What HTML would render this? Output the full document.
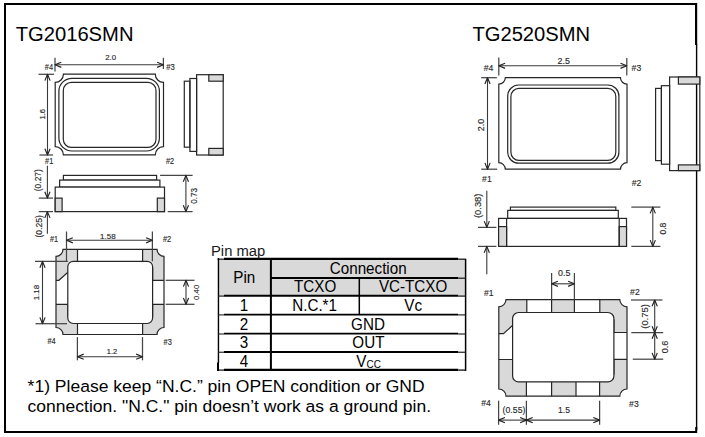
<!DOCTYPE html>
<html><head><meta charset="utf-8"><style>
html,body{margin:0;padding:0;background:#fff;}
body{width:705px;height:437px;overflow:hidden;position:relative;font-family:"Liberation Sans",sans-serif;}
svg{position:absolute;left:0;top:0;}
svg text{font-family:"Liberation Sans",sans-serif;}
</style></head><body>
<svg width="705" height="437" viewBox="0 0 705 437">
<path d="M4,3 H697 V5 H6 V431 H697 V433 H4 Z" fill="#000"/>
<rect x="695" y="3" width="2.2" height="42" fill="#000"/>
<rect x="695.9" y="44" width="1.4" height="386" fill="#000"/>
<rect x="695.2" y="427" width="2" height="6" fill="#000"/>
<text transform="translate(15.7,40.9) scale(1,1.045)" x="0" y="0" font-size="20.2" fill="#000">TG2016SMN</text>
<text transform="translate(472.4,41.2) scale(1,1.045)" x="0" y="0" font-size="20.2" fill="#000">TG2520SMN</text>
<path d="M63.40,74.20 H155.30 A8.2,8.2 0 0 0 163.50,82.40 V146.60 A8.2,8.2 0 0 0 155.30,154.80 H63.40 A8.2,8.2 0 0 0 55.20,146.60 V82.40 A8.2,8.2 0 0 0 63.40,74.20 Z" fill="none" stroke="#262626" stroke-width="1.2" />
<rect x="58.9" y="78.3" width="100.50" height="72.70" rx="13" fill="none" stroke="#262626" stroke-width="1.2"/>
<rect x="63.3" y="82.4" width="92.70" height="64.90" rx="8" fill="none" stroke="#262626" stroke-width="1.2"/>
<line x1="55.0" y1="57.8" x2="55.0" y2="71.5" stroke="#454545" stroke-width="1.25"/>
<line x1="163.4" y1="57.8" x2="163.4" y2="69.0" stroke="#454545" stroke-width="1.25"/>
<line x1="55.0" y1="64.8" x2="163.4" y2="64.8" stroke="#3a3a3a" stroke-width="1.1"/>
<polyline points="61.30,62.20 55.00,64.80 61.30,67.40" fill="none" stroke="#222" stroke-width="1.15" stroke-linejoin="round"/>
<polyline points="157.10,67.40 163.40,64.80 157.10,62.20" fill="none" stroke="#222" stroke-width="1.15" stroke-linejoin="round"/>
<text x="110.7" y="59.8" font-size="8.06" text-anchor="middle" fill="#2a2a2a" textLength="10.8" lengthAdjust="spacingAndGlyphs"  stroke="#2a2a2a" stroke-width="0.15">2.0</text>
<text x="48.9" y="69.9" font-size="8.51" text-anchor="middle" fill="#2a2a2a" textLength="8.2" lengthAdjust="spacingAndGlyphs"  stroke="#2a2a2a" stroke-width="0.15">#4</text>
<text x="170.5" y="69.5" font-size="8.51" text-anchor="middle" fill="#2a2a2a" textLength="8.5" lengthAdjust="spacingAndGlyphs"  stroke="#2a2a2a" stroke-width="0.15">#3</text>
<line x1="38.5" y1="74.3" x2="54.0" y2="74.3" stroke="#454545" stroke-width="1.25"/>
<line x1="39.4" y1="155.0" x2="53.0" y2="155.0" stroke="#454545" stroke-width="1.25"/>
<line x1="47.5" y1="74.3" x2="47.5" y2="155.0" stroke="#3a3a3a" stroke-width="1.1"/>
<polyline points="50.10,80.60 47.50,74.30 44.90,80.60" fill="none" stroke="#222" stroke-width="1.15" stroke-linejoin="round"/>
<polyline points="44.90,148.70 47.50,155.00 50.10,148.70" fill="none" stroke="#222" stroke-width="1.15" stroke-linejoin="round"/>
<text transform="translate(44.9,114.3) rotate(-90)" x="0" y="0" font-size="8.06" text-anchor="middle" fill="#2a2a2a" textLength="10.5" lengthAdjust="spacingAndGlyphs" stroke="#2a2a2a" stroke-width="0.15">1.6</text>
<text x="49.2" y="164.0" font-size="8.51" text-anchor="middle" fill="#2a2a2a" textLength="8.2" lengthAdjust="spacingAndGlyphs"  stroke="#2a2a2a" stroke-width="0.15">#1</text>
<text x="170.0" y="164.1" font-size="8.51" text-anchor="middle" fill="#2a2a2a" textLength="8.2" lengthAdjust="spacingAndGlyphs"  stroke="#2a2a2a" stroke-width="0.15">#2</text>
<rect x="196.6" y="74.7" width="26.60" height="80.30" fill="none" stroke="#262626" stroke-width="1.2"/>
<rect x="208.8" y="74.7" width="14.40" height="6.50" fill="#d9d9d9" stroke="#262626" stroke-width="1.2"/>
<rect x="208.8" y="148.4" width="14.40" height="6.60" fill="#d9d9d9" stroke="#262626" stroke-width="1.2"/>
<rect x="189.9" y="78.5" width="6.70" height="72.90" fill="none" stroke="#262626" stroke-width="1.2"/>
<rect x="184.3" y="81.2" width="5.60" height="66.00" fill="none" stroke="#262626" stroke-width="1.2"/>
<rect x="63.4" y="175.4" width="93.20" height="4.70" fill="#fff" stroke="#262626" stroke-width="1.2"/>
<rect x="59.6" y="180.1" width="100.30" height="7.00" fill="#fff" stroke="#262626" stroke-width="1.2"/>
<rect x="55.2" y="187.1" width="109.30" height="24.50" fill="#fff" stroke="#262626" stroke-width="1.2"/>
<rect x="55.2" y="198.1" width="6.90" height="13.50" fill="#d9d9d9" stroke="#262626" stroke-width="1.2"/>
<rect x="157.3" y="198.1" width="7.20" height="13.50" fill="#d9d9d9" stroke="#262626" stroke-width="1.2"/>
<line x1="38.8" y1="198.1" x2="53.0" y2="198.1" stroke="#454545" stroke-width="1.25"/>
<line x1="38.8" y1="211.6" x2="53.0" y2="211.6" stroke="#454545" stroke-width="1.25"/>
<line x1="47.4" y1="165.7" x2="47.4" y2="198.1" stroke="#3a3a3a" stroke-width="1.1"/>
<polyline points="44.80,191.80 47.40,198.10 50.00,191.80" fill="none" stroke="#222" stroke-width="1.15" stroke-linejoin="round"/>
<line x1="47.4" y1="211.6" x2="47.4" y2="233.7" stroke="#3a3a3a" stroke-width="1.1"/>
<polyline points="50.00,217.90 47.40,211.60 44.80,217.90" fill="none" stroke="#222" stroke-width="1.15" stroke-linejoin="round"/>
<text transform="translate(41.2,180.2) rotate(-90)" x="0" y="0" font-size="9.41" text-anchor="middle" fill="#2a2a2a" textLength="22.0" lengthAdjust="spacingAndGlyphs" stroke="#2a2a2a" stroke-width="0.15">(0.27)</text>
<text transform="translate(42.4,226.3) rotate(-90)" x="0" y="0" font-size="9.41" text-anchor="middle" fill="#2a2a2a" textLength="22.5" lengthAdjust="spacingAndGlyphs" stroke="#2a2a2a" stroke-width="0.15">(0.25)</text>
<line x1="160.1" y1="175.4" x2="192.6" y2="175.4" stroke="#454545" stroke-width="1.25"/>
<line x1="167.7" y1="211.6" x2="192.6" y2="211.6" stroke="#454545" stroke-width="1.25"/>
<line x1="185.9" y1="175.4" x2="185.9" y2="211.6" stroke="#3a3a3a" stroke-width="1.1"/>
<polyline points="188.50,181.70 185.90,175.40 183.30,181.70" fill="none" stroke="#222" stroke-width="1.15" stroke-linejoin="round"/>
<polyline points="183.30,205.30 185.90,211.60 188.50,205.30" fill="none" stroke="#222" stroke-width="1.15" stroke-linejoin="round"/>
<text transform="translate(196.5,195.9) rotate(-90)" x="0" y="0" font-size="9.63" text-anchor="middle" fill="#2a2a2a" textLength="15.8" lengthAdjust="spacingAndGlyphs" stroke="#2a2a2a" stroke-width="0.15">0.73</text>
<clipPath id="c1"><path d="M63.00,249.30 H157.00 A7,7 0 0 0 164.00,256.30 V327.50 A7,7 0 0 0 157.00,334.50 H63.00 A7,7 0 0 0 56.00,327.50 V256.30 A7,7 0 0 0 63.00,249.30 Z"/></clipPath>
<path d="M50,243 H77.5 V268 H72 V272.3 H67.8 L58.9,280.3 H50 Z" fill="#d9d9d9" stroke="#262626" stroke-width="1.2" clip-path="url(#c1)"/>
<path d="M142.6,243 H170 V280.3 H152.6 V268 H142.6 Z" fill="#d9d9d9" stroke="#262626" stroke-width="1.2" clip-path="url(#c1)"/>
<path d="M152.6,304.3 H170 V340 H142.6 V316 H152.6 Z" fill="#d9d9d9" stroke="#262626" stroke-width="1.2" clip-path="url(#c1)"/>
<path d="M50,304.3 H67.8 V316 H77.5 V340 H50 Z" fill="#d9d9d9" stroke="#262626" stroke-width="1.2" clip-path="url(#c1)"/>
<path d="M63.00,249.30 H157.00 A7,7 0 0 0 164.00,256.30 V327.50 A7,7 0 0 0 157.00,334.50 H63.00 A7,7 0 0 0 56.00,327.50 V256.30 A7,7 0 0 0 63.00,249.30 Z" fill="none" stroke="#262626" stroke-width="1.2"/>
<rect x="67.8" y="261.3" width="84.80" height="62.20" rx="5.5" fill="#fff" stroke="#262626" stroke-width="1.2"/>
<line x1="66.5" y1="231.5" x2="66.5" y2="261.3" stroke="#454545" stroke-width="1.25"/>
<line x1="152.4" y1="231.5" x2="152.4" y2="261.3" stroke="#454545" stroke-width="1.25"/>
<line x1="66.5" y1="240.3" x2="152.4" y2="240.3" stroke="#3a3a3a" stroke-width="1.1"/>
<polyline points="72.80,237.70 66.50,240.30 72.80,242.90" fill="none" stroke="#222" stroke-width="1.15" stroke-linejoin="round"/>
<polyline points="146.10,242.90 152.40,240.30 146.10,237.70" fill="none" stroke="#222" stroke-width="1.15" stroke-linejoin="round"/>
<text x="107.9" y="238.6" font-size="8.06" text-anchor="middle" fill="#2a2a2a" textLength="15.6" lengthAdjust="spacingAndGlyphs"  stroke="#2a2a2a" stroke-width="0.15">1.58</text>
<text x="54.0" y="242.1" font-size="8.51" text-anchor="middle" fill="#2a2a2a" textLength="8.2" lengthAdjust="spacingAndGlyphs"  stroke="#2a2a2a" stroke-width="0.15">#1</text>
<text x="167.0" y="241.8" font-size="8.51" text-anchor="middle" fill="#2a2a2a" textLength="8.2" lengthAdjust="spacingAndGlyphs"  stroke="#2a2a2a" stroke-width="0.15">#2</text>
<line x1="35.0" y1="261.4" x2="67.8" y2="261.4" stroke="#454545" stroke-width="1.25"/>
<line x1="35.5" y1="323.7" x2="67.0" y2="323.7" stroke="#454545" stroke-width="1.25"/>
<line x1="42.5" y1="261.4" x2="42.5" y2="323.7" stroke="#3a3a3a" stroke-width="1.1"/>
<polyline points="45.10,267.70 42.50,261.40 39.90,267.70" fill="none" stroke="#222" stroke-width="1.15" stroke-linejoin="round"/>
<polyline points="39.90,317.40 42.50,323.70 45.10,317.40" fill="none" stroke="#222" stroke-width="1.15" stroke-linejoin="round"/>
<text transform="translate(39.3,292.6) rotate(-90)" x="0" y="0" font-size="8.06" text-anchor="middle" fill="#2a2a2a" textLength="15.4" lengthAdjust="spacingAndGlyphs" stroke="#2a2a2a" stroke-width="0.15">1.18</text>
<line x1="165.7" y1="280.3" x2="194.5" y2="280.3" stroke="#454545" stroke-width="1.25"/>
<line x1="165.7" y1="304.3" x2="194.5" y2="304.3" stroke="#454545" stroke-width="1.25"/>
<line x1="186.0" y1="280.3" x2="186.0" y2="304.3" stroke="#3a3a3a" stroke-width="1.1"/>
<polyline points="188.60,286.60 186.00,280.30 183.40,286.60" fill="none" stroke="#222" stroke-width="1.15" stroke-linejoin="round"/>
<polyline points="183.40,298.00 186.00,304.30 188.60,298.00" fill="none" stroke="#222" stroke-width="1.15" stroke-linejoin="round"/>
<text transform="translate(198.7,292.3) rotate(-90)" x="0" y="0" font-size="8.06" text-anchor="middle" fill="#2a2a2a" textLength="15.2" lengthAdjust="spacingAndGlyphs" stroke="#2a2a2a" stroke-width="0.15">0.40</text>
<line x1="77.4" y1="337.1" x2="77.4" y2="360.3" stroke="#454545" stroke-width="1.25"/>
<line x1="142.5" y1="337.1" x2="142.5" y2="360.3" stroke="#454545" stroke-width="1.25"/>
<line x1="77.4" y1="356.7" x2="142.5" y2="356.7" stroke="#3a3a3a" stroke-width="1.1"/>
<polyline points="83.70,354.10 77.40,356.70 83.70,359.30" fill="none" stroke="#222" stroke-width="1.15" stroke-linejoin="round"/>
<polyline points="136.20,359.30 142.50,356.70 136.20,354.10" fill="none" stroke="#222" stroke-width="1.15" stroke-linejoin="round"/>
<text x="112.0" y="354.0" font-size="8.06" text-anchor="middle" fill="#2a2a2a" textLength="10.3" lengthAdjust="spacingAndGlyphs"  stroke="#2a2a2a" stroke-width="0.15">1.2</text>
<text x="51.6" y="343.9" font-size="8.51" text-anchor="middle" fill="#2a2a2a" textLength="8.2" lengthAdjust="spacingAndGlyphs"  stroke="#2a2a2a" stroke-width="0.15">#4</text>
<text x="167.7" y="345.2" font-size="8.51" text-anchor="middle" fill="#2a2a2a" textLength="8.2" lengthAdjust="spacingAndGlyphs"  stroke="#2a2a2a" stroke-width="0.15">#3</text>
<path d="M505.30,77.70 H620.50 A6.5,6.5 0 0 0 627.00,84.20 V162.70 A6.5,6.5 0 0 0 620.50,169.20 H505.30 A6.5,6.5 0 0 0 498.80,162.70 V84.20 A6.5,6.5 0 0 0 505.30,77.70 Z" fill="none" stroke="#262626" stroke-width="1.2" />
<rect x="507.7" y="85.0" width="111.20" height="78.20" rx="11" fill="none" stroke="#262626" stroke-width="1.2"/>
<rect x="510.9" y="88.4" width="104.90" height="71.90" rx="8" fill="none" stroke="#262626" stroke-width="1.2"/>
<line x1="498.8" y1="57.5" x2="498.8" y2="75.4" stroke="#454545" stroke-width="1.25"/>
<line x1="626.8" y1="58.0" x2="626.8" y2="75.4" stroke="#454545" stroke-width="1.25"/>
<line x1="498.8" y1="65.8" x2="626.8" y2="65.8" stroke="#3a3a3a" stroke-width="1.1"/>
<polyline points="505.10,63.20 498.80,65.80 505.10,68.40" fill="none" stroke="#222" stroke-width="1.15" stroke-linejoin="round"/>
<polyline points="620.50,68.40 626.80,65.80 620.50,63.20" fill="none" stroke="#222" stroke-width="1.15" stroke-linejoin="round"/>
<text x="563.7" y="64.1" font-size="8.74" text-anchor="middle" fill="#2a2a2a" textLength="12.4" lengthAdjust="spacingAndGlyphs"  stroke="#2a2a2a" stroke-width="0.15">2.5</text>
<text x="488.5" y="71.2" font-size="9.41" text-anchor="middle" fill="#2a2a2a" textLength="9.6" lengthAdjust="spacingAndGlyphs"  stroke="#2a2a2a" stroke-width="0.15">#4</text>
<text x="636.4" y="71.2" font-size="9.41" text-anchor="middle" fill="#2a2a2a" textLength="9.6" lengthAdjust="spacingAndGlyphs"  stroke="#2a2a2a" stroke-width="0.15">#3</text>
<line x1="481.2" y1="77.7" x2="496.8" y2="77.7" stroke="#454545" stroke-width="1.25"/>
<line x1="481.2" y1="169.2" x2="497.2" y2="169.2" stroke="#454545" stroke-width="1.25"/>
<line x1="487.5" y1="77.7" x2="487.5" y2="169.2" stroke="#3a3a3a" stroke-width="1.1"/>
<polyline points="490.10,84.00 487.50,77.70 484.90,84.00" fill="none" stroke="#222" stroke-width="1.15" stroke-linejoin="round"/>
<polyline points="484.90,162.90 487.50,169.20 490.10,162.90" fill="none" stroke="#222" stroke-width="1.15" stroke-linejoin="round"/>
<text transform="translate(483.8,125.0) rotate(-90)" x="0" y="0" font-size="8.74" text-anchor="middle" fill="#2a2a2a" textLength="12.4" lengthAdjust="spacingAndGlyphs" stroke="#2a2a2a" stroke-width="0.15">2.0</text>
<text x="486.9" y="182.4" font-size="9.41" text-anchor="middle" fill="#2a2a2a" textLength="9.6" lengthAdjust="spacingAndGlyphs"  stroke="#2a2a2a" stroke-width="0.15">#1</text>
<text x="636.6" y="185.6" font-size="9.41" text-anchor="middle" fill="#2a2a2a" textLength="9.6" lengthAdjust="spacingAndGlyphs"  stroke="#2a2a2a" stroke-width="0.15">#2</text>
<rect x="669.6" y="77.0" width="30.20" height="93.60" fill="none" stroke="#262626" stroke-width="1.2"/>
<rect x="678.4" y="77.0" width="21.40" height="7.10" fill="#d9d9d9" stroke="#262626" stroke-width="1.2"/>
<rect x="678.4" y="164.9" width="21.40" height="5.70" fill="#d9d9d9" stroke="#262626" stroke-width="1.2"/>
<rect x="661.4" y="85.7" width="8.20" height="78.50" fill="none" stroke="#262626" stroke-width="1.2"/>
<rect x="655.6" y="88.4" width="5.80" height="72.20" fill="none" stroke="#262626" stroke-width="1.2"/>
<rect x="510.4" y="207.1" width="105.40" height="3.30" fill="#fff" stroke="#262626" stroke-width="1.2"/>
<rect x="507.7" y="210.4" width="110.60" height="8.00" fill="#fff" stroke="#262626" stroke-width="1.2"/>
<rect x="498.6" y="218.4" width="127.90" height="28.00" fill="#fff" stroke="#262626" stroke-width="1.2"/>
<rect x="498.6" y="226.6" width="8.00" height="19.80" fill="#d9d9d9" stroke="#262626" stroke-width="1.2"/>
<rect x="619.2" y="226.6" width="7.30" height="19.80" fill="#d9d9d9" stroke="#262626" stroke-width="1.2"/>
<line x1="506.6" y1="218.4" x2="506.6" y2="246.4" stroke="#262626" stroke-width="1.2"/>
<line x1="619.2" y1="218.4" x2="619.2" y2="246.4" stroke="#262626" stroke-width="1.2"/>
<line x1="478.0" y1="227.4" x2="496.4" y2="227.4" stroke="#454545" stroke-width="1.25"/>
<line x1="478.0" y1="246.4" x2="496.4" y2="246.4" stroke="#454545" stroke-width="1.25"/>
<line x1="486.8" y1="190.7" x2="486.8" y2="227.4" stroke="#3a3a3a" stroke-width="1.1"/>
<polyline points="484.20,221.10 486.80,227.40 489.40,221.10" fill="none" stroke="#222" stroke-width="1.15" stroke-linejoin="round"/>
<line x1="486.8" y1="246.4" x2="486.8" y2="274.3" stroke="#3a3a3a" stroke-width="1.1"/>
<polyline points="489.40,252.70 486.80,246.40 484.20,252.70" fill="none" stroke="#222" stroke-width="1.15" stroke-linejoin="round"/>
<text transform="translate(481.4,205.8) rotate(-90)" x="0" y="0" font-size="9.63" text-anchor="middle" fill="#2a2a2a" textLength="24.5" lengthAdjust="spacingAndGlyphs" stroke="#2a2a2a" stroke-width="0.15">(0.38)</text>
<line x1="631.3" y1="207.1" x2="660.4" y2="207.1" stroke="#454545" stroke-width="1.25"/>
<line x1="631.3" y1="246.4" x2="660.4" y2="246.4" stroke="#454545" stroke-width="1.25"/>
<line x1="652.8" y1="207.1" x2="652.8" y2="246.4" stroke="#3a3a3a" stroke-width="1.1"/>
<polyline points="655.40,213.40 652.80,207.10 650.20,213.40" fill="none" stroke="#222" stroke-width="1.15" stroke-linejoin="round"/>
<polyline points="650.20,240.10 652.80,246.40 655.40,240.10" fill="none" stroke="#222" stroke-width="1.15" stroke-linejoin="round"/>
<text transform="translate(665.9,228.6) rotate(-90)" x="0" y="0" font-size="9.63" text-anchor="middle" fill="#2a2a2a" textLength="12.0" lengthAdjust="spacingAndGlyphs" stroke="#2a2a2a" stroke-width="0.15">0.8</text>
<clipPath id="c2"><path d="M506.00,299.60 H619.80 A7.2,7.2 0 0 0 627.00,306.80 V389.00 A7.2,7.2 0 0 0 619.80,396.20 H506.00 A7.2,7.2 0 0 0 498.80,389.00 V306.80 A7.2,7.2 0 0 0 506.00,299.60 Z"/></clipPath>
<path d="M492,293 H526.8 V320 H518 V325.4 H512.6 L503.5,333.7 H492 Z" fill="#d9d9d9" stroke="#262626" stroke-width="1.2" clip-path="url(#c2)"/>
<path d="M551.6,293 H574.4 V314 H551.6 Z" fill="#d9d9d9" stroke="#262626" stroke-width="1.2" clip-path="url(#c2)"/>
<path d="M599.8,293 H634 V332.5 H613.9 V320 H599.8 Z" fill="#d9d9d9" stroke="#262626" stroke-width="1.2" clip-path="url(#c2)"/>
<path d="M613.9,359.3 H634 V402 H599.6 V374 H613.9 Z" fill="#d9d9d9" stroke="#262626" stroke-width="1.2" clip-path="url(#c2)"/>
<path d="M551.6,380 H576 V402 H551.6 Z" fill="#d9d9d9" stroke="#262626" stroke-width="1.2" clip-path="url(#c2)"/>
<path d="M492,359.5 H512.6 V374 H526.4 V402 H492 Z" fill="#d9d9d9" stroke="#262626" stroke-width="1.2" clip-path="url(#c2)"/>
<path d="M506.00,299.60 H619.80 A7.2,7.2 0 0 0 627.00,306.80 V389.00 A7.2,7.2 0 0 0 619.80,396.20 H506.00 A7.2,7.2 0 0 0 498.80,389.00 V306.80 A7.2,7.2 0 0 0 506.00,299.60 Z" fill="none" stroke="#262626" stroke-width="1.2"/>
<rect x="512.6" y="312.5" width="101.30" height="69.40" rx="6" fill="#fff" stroke="#262626" stroke-width="1.2"/>
<line x1="551.6" y1="273.0" x2="551.6" y2="299.7" stroke="#454545" stroke-width="1.25"/>
<line x1="574.4" y1="273.0" x2="574.4" y2="299.7" stroke="#454545" stroke-width="1.25"/>
<line x1="551.6" y1="283.8" x2="574.4" y2="283.8" stroke="#3a3a3a" stroke-width="1.1"/>
<polyline points="557.90,281.20 551.60,283.80 557.90,286.40" fill="none" stroke="#222" stroke-width="1.15" stroke-linejoin="round"/>
<polyline points="568.10,286.40 574.40,283.80 568.10,281.20" fill="none" stroke="#222" stroke-width="1.15" stroke-linejoin="round"/>
<text x="564.3" y="275.9" font-size="8.74" text-anchor="middle" fill="#2a2a2a" textLength="12.4" lengthAdjust="spacingAndGlyphs"  stroke="#2a2a2a" stroke-width="0.15">0.5</text>
<text x="488.8" y="295.5" font-size="9.41" text-anchor="middle" fill="#2a2a2a" textLength="9.6" lengthAdjust="spacingAndGlyphs"  stroke="#2a2a2a" stroke-width="0.15">#1</text>
<text x="634.9" y="295.4" font-size="9.41" text-anchor="middle" fill="#2a2a2a" textLength="9.6" lengthAdjust="spacingAndGlyphs"  stroke="#2a2a2a" stroke-width="0.15">#2</text>
<line x1="631.0" y1="300.0" x2="662.5" y2="300.0" stroke="#454545" stroke-width="1.25"/>
<line x1="631.3" y1="332.5" x2="663.2" y2="332.5" stroke="#454545" stroke-width="1.25"/>
<line x1="632.8" y1="359.2" x2="663.2" y2="359.2" stroke="#454545" stroke-width="1.25"/>
<line x1="654.7" y1="300.0" x2="654.7" y2="332.5" stroke="#3a3a3a" stroke-width="1.1"/>
<polyline points="657.30,306.30 654.70,300.00 652.10,306.30" fill="none" stroke="#222" stroke-width="1.15" stroke-linejoin="round"/>
<polyline points="652.10,326.20 654.70,332.50 657.30,326.20" fill="none" stroke="#222" stroke-width="1.15" stroke-linejoin="round"/>
<line x1="654.7" y1="332.5" x2="654.7" y2="359.2" stroke="#3a3a3a" stroke-width="1.1"/>
<polyline points="657.30,338.80 654.70,332.50 652.10,338.80" fill="none" stroke="#222" stroke-width="1.15" stroke-linejoin="round"/>
<polyline points="652.10,352.90 654.70,359.20 657.30,352.90" fill="none" stroke="#222" stroke-width="1.15" stroke-linejoin="round"/>
<text transform="translate(648.3,316.4) rotate(-90)" x="0" y="0" font-size="9.63" text-anchor="middle" fill="#2a2a2a" textLength="24.5" lengthAdjust="spacingAndGlyphs" stroke="#2a2a2a" stroke-width="0.15">(0.75)</text>
<text transform="translate(668.4,347.0) rotate(-90)" x="0" y="0" font-size="9.63" text-anchor="middle" fill="#2a2a2a" textLength="12.5" lengthAdjust="spacingAndGlyphs" stroke="#2a2a2a" stroke-width="0.15">0.6</text>
<line x1="498.6" y1="400.7" x2="498.6" y2="424.8" stroke="#454545" stroke-width="1.25"/>
<line x1="526.4" y1="400.7" x2="526.4" y2="424.8" stroke="#454545" stroke-width="1.25"/>
<line x1="599.6" y1="400.7" x2="599.6" y2="424.8" stroke="#454545" stroke-width="1.25"/>
<line x1="498.6" y1="420.1" x2="526.4" y2="420.1" stroke="#3a3a3a" stroke-width="1.1"/>
<polyline points="504.90,417.50 498.60,420.10 504.90,422.70" fill="none" stroke="#222" stroke-width="1.15" stroke-linejoin="round"/>
<polyline points="520.10,422.70 526.40,420.10 520.10,417.50" fill="none" stroke="#222" stroke-width="1.15" stroke-linejoin="round"/>
<line x1="526.4" y1="420.1" x2="599.6" y2="420.1" stroke="#3a3a3a" stroke-width="1.1"/>
<polyline points="532.70,417.50 526.40,420.10 532.70,422.70" fill="none" stroke="#222" stroke-width="1.15" stroke-linejoin="round"/>
<polyline points="593.30,422.70 599.60,420.10 593.30,417.50" fill="none" stroke="#222" stroke-width="1.15" stroke-linejoin="round"/>
<text x="514.0" y="412.6" font-size="9.63" text-anchor="middle" fill="#2a2a2a" textLength="22.8" lengthAdjust="spacingAndGlyphs"  stroke="#2a2a2a" stroke-width="0.15">(0.55)</text>
<text x="564.0" y="412.5" font-size="9.63" text-anchor="middle" fill="#2a2a2a" textLength="12.0" lengthAdjust="spacingAndGlyphs"  stroke="#2a2a2a" stroke-width="0.15">1.5</text>
<text x="486.0" y="406.3" font-size="9.41" text-anchor="middle" fill="#2a2a2a" textLength="9.6" lengthAdjust="spacingAndGlyphs"  stroke="#2a2a2a" stroke-width="0.15">#4</text>
<text x="633.9" y="406.6" font-size="9.41" text-anchor="middle" fill="#2a2a2a" textLength="9.6" lengthAdjust="spacingAndGlyphs"  stroke="#2a2a2a" stroke-width="0.15">#3</text>
<rect x="218.6" y="259.2" width="246.9" height="36.6" fill="#d9d9d9"/>
<line x1="217.5" y1="259.2" x2="224" y2="259.2" stroke="#333" stroke-width="1.37"/>
<line x1="224" y1="258.9" x2="458.2" y2="258.9" stroke="#000" stroke-width="2.1"/>
<line x1="458.2" y1="259.2" x2="465.5" y2="259.2" stroke="#222" stroke-width="1.37"/>
<line x1="217.3" y1="370.1" x2="224" y2="370.1" stroke="#333" stroke-width="1.43"/>
<line x1="224" y1="369.8" x2="458.2" y2="369.8" stroke="#000" stroke-width="2.2"/>
<line x1="458.2" y1="370.1" x2="465.5" y2="370.1" stroke="#222" stroke-width="1.43"/>
<line x1="218.45" y1="258.0" x2="218.45" y2="363" stroke="#000" stroke-width="1.4"/>
<line x1="218.0" y1="362.6" x2="218.0" y2="370.9" stroke="#000" stroke-width="2.0"/>
<line x1="465.6" y1="258.8" x2="465.6" y2="370.9" stroke="#000" stroke-width="1.5"/>
<line x1="270.9" y1="258.0" x2="270.9" y2="370.9" stroke="#000" stroke-width="2"/>
<line x1="270.9" y1="277.9" x2="458.2" y2="277.9" stroke="#000" stroke-width="2"/>
<line x1="458.2" y1="278.2" x2="465.5" y2="278.2" stroke="#222" stroke-width="1.30"/>
<line x1="218.4" y1="296.1" x2="224" y2="296.1" stroke="#333" stroke-width="1.30"/>
<line x1="224" y1="295.8" x2="458.2" y2="295.8" stroke="#000" stroke-width="2"/>
<line x1="458.2" y1="296.1" x2="465.5" y2="296.1" stroke="#222" stroke-width="1.30"/>
<line x1="359.3" y1="277.9" x2="359.3" y2="315.1" stroke="#000" stroke-width="1.5"/>
<line x1="218.4" y1="314.90000000000003" x2="224" y2="314.90000000000003" stroke="#333" stroke-width="1.17"/>
<line x1="224" y1="314.6" x2="458.2" y2="314.6" stroke="#000" stroke-width="1.8"/>
<line x1="458.2" y1="314.90000000000003" x2="465.5" y2="314.90000000000003" stroke="#222" stroke-width="1.17"/>
<line x1="218.4" y1="334.0" x2="224" y2="334.0" stroke="#333" stroke-width="1.17"/>
<line x1="224" y1="333.7" x2="458.2" y2="333.7" stroke="#000" stroke-width="1.8"/>
<line x1="458.2" y1="334.0" x2="465.5" y2="334.0" stroke="#222" stroke-width="1.17"/>
<line x1="218.4" y1="352.25" x2="224" y2="352.25" stroke="#333" stroke-width="1.23"/>
<line x1="224" y1="351.95" x2="458.2" y2="351.95" stroke="#000" stroke-width="1.9"/>
<line x1="458.2" y1="352.25" x2="465.5" y2="352.25" stroke="#222" stroke-width="1.23"/>
<text transform="translate(211.0,255.8) scale(1,1.05)" x="0" y="0" font-size="14.8" fill="#1a1a1a">Pin map</text>
<text transform="translate(244.3,283.0) scale(1,1.05)" x="0" y="0" font-size="15.2" text-anchor="middle" fill="#000">Pin</text>
<text transform="translate(368.2,274.0) scale(1,1.05)" x="0" y="0" font-size="15.2" text-anchor="middle" fill="#000">Connection</text>
<text transform="translate(315.2,292.4) scale(1,1.05)" x="0" y="0" font-size="15.2" text-anchor="middle" fill="#000">TCXO</text>
<text transform="translate(413.1,292.4) scale(1,1.05)" x="0" y="0" font-size="15.2" text-anchor="middle" fill="#000">VC-TCXO</text>
<text transform="translate(244.0,311.0) scale(1,1.05)" x="0" y="0" font-size="15.2" text-anchor="middle" fill="#000">1</text>
<text transform="translate(314.6,310.9) scale(1,1.05)" x="0" y="0" font-size="15.2" text-anchor="middle" fill="#000">N.C.*1</text>
<text transform="translate(413.2,311.0) scale(1,1.05)" x="0" y="0" font-size="15.2" text-anchor="middle" fill="#000">Vc</text>
<text transform="translate(244.0,330.2) scale(1,1.05)" x="0" y="0" font-size="15.2" text-anchor="middle" fill="#000">2</text>
<text transform="translate(368.0,330.2) scale(1,1.05)" x="0" y="0" font-size="15.2" text-anchor="middle" fill="#000">GND</text>
<text transform="translate(244.0,348.2) scale(1,1.05)" x="0" y="0" font-size="15.2" text-anchor="middle" fill="#000">3</text>
<text transform="translate(368.4,348.0) scale(1,1.05)" x="0" y="0" font-size="15.2" text-anchor="middle" fill="#000">OUT</text>
<text transform="translate(244.0,366.6) scale(1,1.05)" x="0" y="0" font-size="15.2" text-anchor="middle" fill="#000">4</text>
<text transform="translate(356.3,366.6) scale(1,1.05)" x="0" y="0" font-size="15.2" fill="#000">V<tspan font-size="11" dy="1.4" textLength="14.4" lengthAdjust="spacingAndGlyphs">CC</tspan></text>
<text transform="translate(27.6,392.2) scale(1,1.03)" x="0" y="0" font-size="16.8" textLength="397" lengthAdjust="spacingAndGlyphs" fill="#000">*1) Please keep “N.C.” pin OPEN condition or GND</text>
<text transform="translate(27.6,411.7) scale(1,1.03)" x="0" y="0" font-size="16.8" textLength="403.5" lengthAdjust="spacingAndGlyphs" fill="#000">connection. "N.C." pin doesn’t work as a ground pin.</text>
</svg>
</body></html>
